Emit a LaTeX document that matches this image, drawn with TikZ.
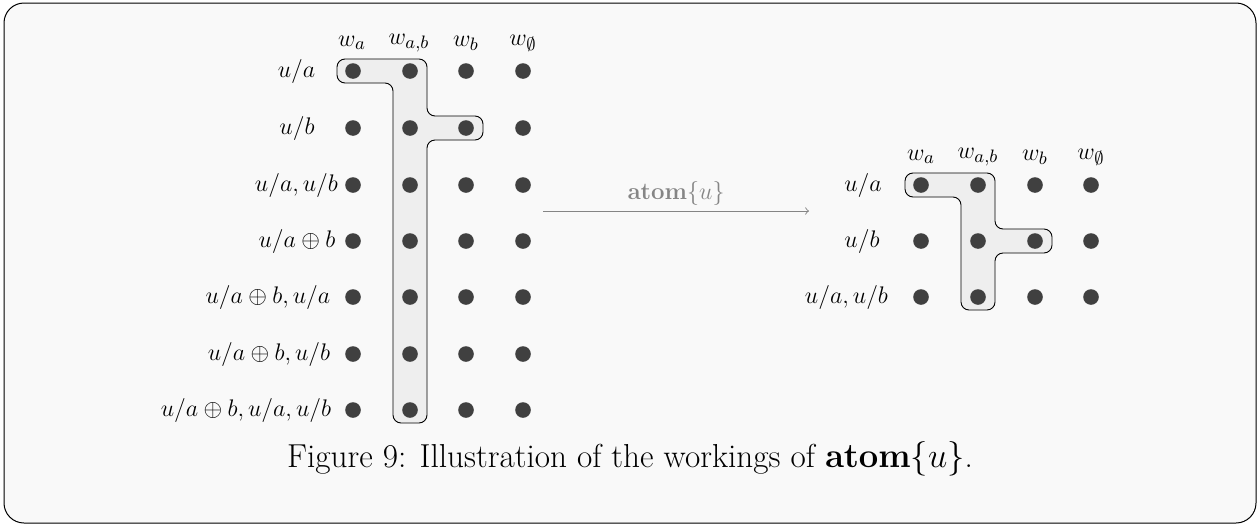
\documentclass[tikz,border=0pt]{standalone}
\usetikzlibrary{calc}
\definecolor{bgfill}{HTML}{F9F9F9}
\definecolor{blobfill}{HTML}{EEEEEE}
\definecolor{dotfill}{HTML}{404040}
\definecolor{arrowgray}{HTML}{858585}
\begin{document}
\begin{tikzpicture}[x=0.5pt,y=-0.5pt,
  dotnode/.style={circle,fill=dotfill,minimum size=7.8pt,inner sep=0pt},
  lbl/.style={inner sep=0pt,font=\fontsize{12.4}{14}\selectfont},
  caplbl/.style={inner sep=0pt,font=\fontsize{16.6}{19}\selectfont},
  blob/.style={draw=black,line width=0.45pt,fill=blobfill,rounded corners=4pt},
  frame/.style={draw=black,line width=0.5pt,fill=bgfill,rounded corners=10pt}]
\useasboundingbox (0,0) rectangle (1258,525);
\node[frame,minimum width=626pt,minimum height=260pt,inner sep=0pt] (frm) at (630,263) {};
% grid coordinates
\foreach \r/\y in {1/71,2/128,3/185,4/241,5/297,6/354,7/410}{
  \foreach \c/\x in {1/353,2/410,3/466,4/523}{
    \coordinate (L\r\c) at (\x,\y);
  }
}
\foreach \r/\y in {1/185,2/241,3/297}{
  \foreach \c/\x in {1/921,2/978,3/1035,4/1091}{
    \coordinate (R\r\c) at (\x,\y);
  }
}
% left blob
\draw[blob] ($(L11)+(-16,-12)$) -- ($(L12)+(17,-12)$) -- ($(L22)+(17,-12)$) -- ($(L23)+(17,-12)$)
  -- ($(L23)+(17,12)$) -- ($(L22)+(17,12)$) -- ($(L72)+(17,13)$) -- ($(L72)+(-17,13)$)
  -- ($(L12)+(-17,12)$) -- ($(L11)+(-16,12)$) -- cycle;
% right blob
\draw[blob] ($(R11)+(-16,-12)$) -- ($(R12)+(17,-12)$) -- ($(R22)+(17,-12)$) -- ($(R23)+(17,-12)$)
  -- ($(R23)+(17,12)$) -- ($(R22)+(17,12)$) -- ($(R32)+(17,13)$) -- ($(R32)+(-17,13)$)
  -- ($(R12)+(-17,12)$) -- ($(R11)+(-16,12)$) -- cycle;
% dots
\foreach \r in {1,...,7}{\foreach \c in {1,...,4}{\node[dotnode] (dL\r\c) at (L\r\c) {};}}
\foreach \r in {1,...,3}{\foreach \c in {1,...,4}{\node[dotnode] (dR\r\c) at (R\r\c) {};}}
% column labels
\node[lbl] (lwa) at (352,43) {$w_a$};
\node[lbl] (lwab) at (409,43) {$w_{a,b}$};
\node[lbl] (lwb) at (466,43) {$w_b$};
\node[lbl] (lwe) at (523,43) {$w_\emptyset$};
\node[lbl] (rwa) at (921,157) {$w_a$};
\node[lbl] (rwab) at (978,157) {$w_{a,b}$};
\node[lbl] (rwb) at (1035,157) {$w_b$};
\node[lbl] (rwe) at (1091,157) {$w_\emptyset$};
% row labels
\node[lbl] (lr1) at (296.5,71) {$u/a$};
\node[lbl] (lr2) at (297,128) {$u/b$};
\node[lbl] (lr3) at (296.5,185) {$u/a, u/b$};
\node[lbl] (lr4) at (297,241) {$u/a \oplus b$};
\node[lbl] (lr5) at (268,297) {$u/a \oplus b, u/a$};
\node[lbl] (lr6) at (269,354) {$u/a \oplus b, u/b$};
\node[lbl] (lr7) at (246,410) {$u/a \oplus b, u/a, u/b$};
\node[lbl] (rr1) at (863,185) {$u/a$};
\node[lbl] (rr2) at (862,241) {$u/b$};
\node[lbl] (rr3) at (846.5,297) {$u/a, u/b$};
% arrow
\coordinate (as) at (543,211);
\coordinate (ae) at (809,211);
\draw[arrowgray,line width=0.45pt,->] (as) -- (ae);
\node[lbl,text=arrowgray] (alab) at (676,193) {$\mathbf{atom}\{u\}$};
% caption
\node[caplbl] (cap) at (630,459) {Figure 9: Illustration of the workings of $\mathbf{atom}\{u\}$.};
\end{tikzpicture}
\end{document}
